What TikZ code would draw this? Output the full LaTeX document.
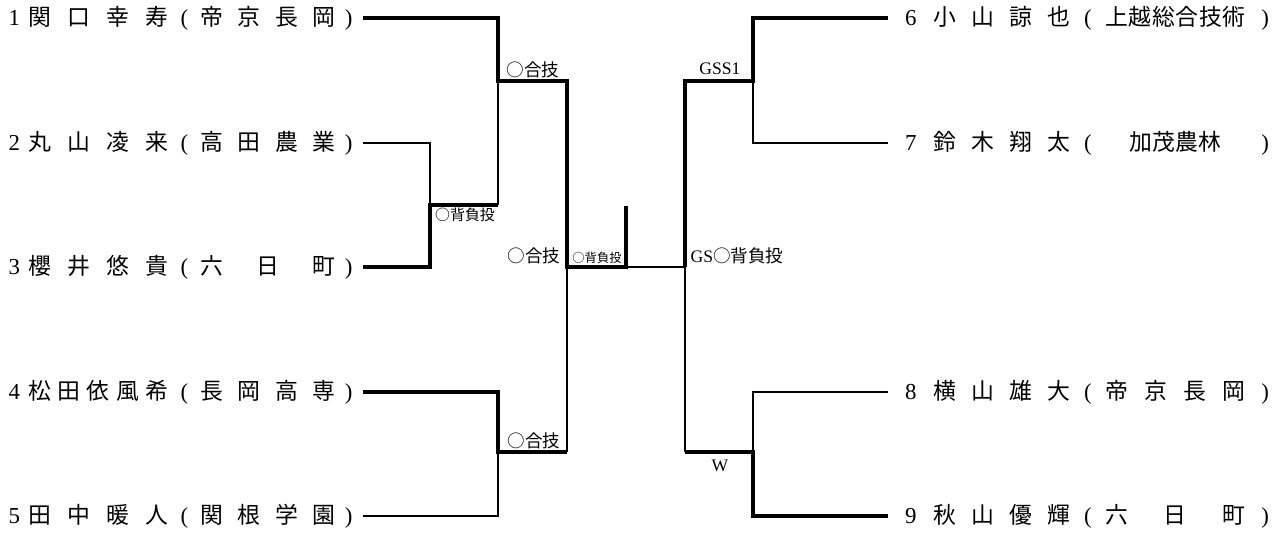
\documentclass[tikz,border=0pt]{standalone}
\usepackage{fontspec}
\setmainfont{Liberation Serif}
\newfontfamily\jp{Noto Sans CJK JP}
\usetikzlibrary{positioning}

% left and right entry layouts (number, name, school)
\newcommand\lentry[3]{\makebox[0.56cm]{#1}\makebox[2.8cm]{\jp #2}\makebox[0.64cm]{(}\makebox[2.7cm]{\jp #3}\makebox[0.54cm]{)}}
\newcommand\rentry[3]{\makebox[0.9cm]{#1}\makebox[2.74cm]{\jp #2}\makebox[0.7cm]{(}\makebox[2.8cm]{\jp #3}\makebox[0.8cm]{)}}

\begin{document}
\begin{tikzpicture}[x=0.02cm, y=-0.02cm]
    \tikzset{
		lp/.style={anchor=west, inner xsep=0pt, inner ysep=1pt, font=\fontsize{13pt}{15pt}\selectfont},
		rp/.style={anchor=west, inner xsep=0pt, inner ysep=1pt, font=\fontsize{13pt}{15pt}\selectfont},
		res/.style={inner sep=0pt, font=\fontsize{10pt}{12pt}\selectfont},
		ressmall/.style={inner sep=0pt, font=\fontsize{8.5pt}{10pt}\selectfont},
		restiny/.style={inner sep=0pt, font=\fontsize{7pt}{8pt}\selectfont},
		win/.style={line width=2.6pt},
		lose/.style={line width=0.9pt}
	}
	\useasboundingbox (0,0) rectangle (1285,532);

	% --- Lado izquierdo ---
	\node [lp] (p1) at (0,18)  {\lentry{1}{関\hfill 口\hfill 幸\hfill 寿}{帝\hfill 京\hfill 長\hfill 岡}};
	\node [lp] (p2) at (0,143) {\lentry{2}{丸\hfill 山\hfill 凌\hfill 来}{高\hfill 田\hfill 農\hfill 業}};
	\node [lp] (p3) at (0,267) {\lentry{3}{櫻\hfill 井\hfill 悠\hfill 貴}{六\hfill 日\hfill 町}};
	\node [lp] (p4) at (0,392) {\lentry{4}{松\hfill 田\hfill 依\hfill 風\hfill 希}{長\hfill 岡\hfill 高\hfill 専}};
	\node [lp] (p5) at (0,516) {\lentry{5}{田\hfill 中\hfill 暖\hfill 人}{関\hfill 根\hfill 学\hfill 園}};

	% --- Lado derecho ---
	\node [rp] (p6) at (888,18)  {\rentry{6}{小\hfill 山\hfill 諒\hfill 也}{上\hfill 越\hfill 総\hfill 合\hfill 技\hfill 術}};
	\node [rp] (p7) at (888,143) {\rentry{7}{鈴\hfill 木\hfill 翔\hfill 太}{加茂農林}};
	\node [rp] (p8) at (888,392) {\rentry{8}{横\hfill 山\hfill 雄\hfill 大}{帝\hfill 京\hfill 長\hfill 岡}};
	\node [rp] (p9) at (888,516) {\rentry{9}{秋\hfill 山\hfill 優\hfill 輝}{六\hfill 日\hfill 町}};

	% --- Puntos de los cruces ---
	\coordinate (mA) at (430,205);
	\coordinate (mB) at (498,81);
	\coordinate (mC) at (498,452);
	\coordinate (sL) at (567,267);
	\coordinate (fin) at (626,267);
	\coordinate (champ) at (626,206);
	\coordinate (sR) at (685,267);
	\coordinate (mD) at (753,81);
	\coordinate (mE) at (753,452);

	% --- Conexiones izquierda ---
	\draw [lose] (p2.east) -| (mA);
	\draw [win] (p3.east) -| (mA) -- (mA -| mB);
	\draw [lose] (mA -| mB) -- (mB);
	\draw [win] (p1.east) -| (mB) -- (mB -| sL) -- (sL) -- (fin) -- (champ);
	\draw [win] (p4.east) -| (mC) -- (mC -| sL);
	\draw [lose] (p5.east) -| (mC);
	\draw [lose] (mC -| sL) -- (sL);

	% --- Conexiones derecha ---
	\draw [win] (p6.west) -| (mD) -- (mD -| sR) -- (sR);
	\draw [lose] (p7.west) -| (mD);
	\draw [lose] (sR) -- (fin);
	\draw [win] (p9.west) -| (mE) -- (mE -| sR);
	\draw [lose] (p8.west) -| (mE);
	\draw [lose] (mE -| sR) -- (sR);

	% --- Resultados ---
	\node [res] (rB) at (533,70) {\jp ○合技};
	\node [ressmall] (rA) at (465,215) {\jp ○背負投};
	\node [res] (rL) at (534,256) {\jp ○合技};
	\node [restiny] (rF) at (597,258) {\jp ○背負投};
	\node [res] (rC) at (534,441) {\jp ○合技};
	\node [res] (rD) at (720,69) {GSS1};
	\node [res] (rR) at (737,256) {GS{\jp ○背負投}};
	\node [res] (rE) at (720,466) {W};
\end{tikzpicture}
\end{document}
